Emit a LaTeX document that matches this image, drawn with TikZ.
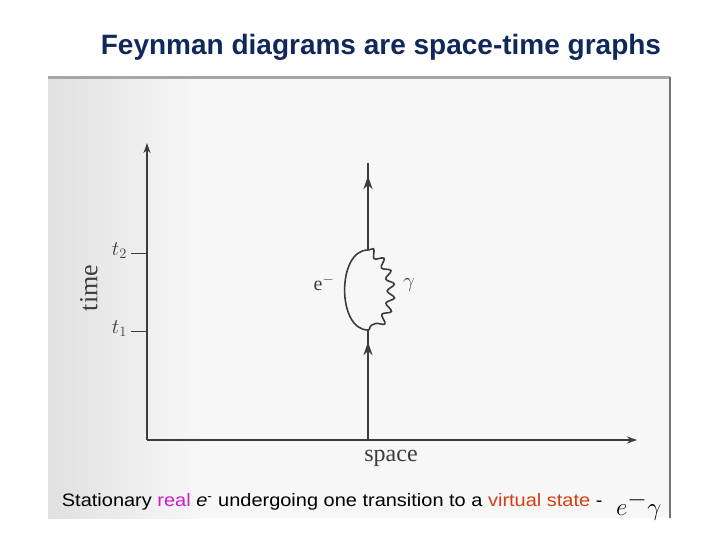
\documentclass[tikz,border=0pt]{standalone}
\usepackage{fontspec}
\setmainfont{Liberation Serif}
\setsansfont{Liberation Sans}
\usepackage{tikz}
\usetikzlibrary{arrows.meta, decorations.pathmorphing, decorations.markings}
\definecolor{titleblue}{RGB}{16,40,90}
\definecolor{scanink}{RGB}{60,60,60}
\definecolor{realpink}{RGB}{200,30,200}
\definecolor{virtred}{RGB}{215,60,20}
\tikzset{
  every label text/.style={
    text=scanink,
    inner sep=0pt
  },
  fermion/.style={
    draw=scanink,
    line width=2pt,
    postaction={decorate},
    decoration={markings, mark=at position #1 with {\arrow{Stealth[length=13pt, width=9pt, inset=4pt]}}}
  },
}
\tikzstyle{axis} = [draw=scanink, line width=1.4pt, -{Stealth[length=10pt, width=7pt, inset=3pt]}]
\tikzstyle{tick} = [draw=scanink, line width=1pt]
\tikzstyle{photon} = [draw=scanink, line width=1.6pt, decorate, decoration={snake, amplitude=3.8pt, segment length=13pt}]
\tikzstyle{loopline} = [draw=scanink, line width=1.6pt]

\begin{document}
\begin{tikzpicture}[x=1pt, y=-1pt]
        \useasboundingbox (0,0) rectangle (720,540);
        \fill[white] (0,0) rectangle (720,540);
        % scanned page
        \shade[left color=black!12, right color=black!3] (48,77) rectangle (200,518);
        \fill[black!3] (200,77) rectangle (670,518);
        \draw[black!35, line width=3pt] (48,78) -- (670,78);
        \draw[black!55, line width=1.5pt] (670,77) -- (670,518);

        % title
        \node [font=\sffamily\bfseries\fontsize{28}{32}\selectfont, text=titleblue] (title) at (381,47) {Feynman diagrams are space-time graphs};

        % axes
        \coordinate (origin) at (147,440);
        \coordinate (tend) at (147,143);
        \coordinate (send) at (637,440);
        \draw [axis] (origin) -- (tend);
        \draw [axis] (origin) -- (send);
        \coordinate (t2a) at (131,253);
        \coordinate (t2b) at (147,253);
        \coordinate (t1a) at (131,331);
        \coordinate (t1b) at (147,331);
        \draw [tick] (t2a) -- (t2b);
        \draw [tick] (t1a) -- (t1b);

        % axis labels
        \node [every label text, font=\fontsize{26}{30}\selectfont, rotate=90] (time) at (89,288) {time};
        \node [every label text, font=\fontsize{24}{28}\selectfont] (space) at (391,458) {space};
        \node [every label text, font=\fontsize{20}{22}\selectfont, anchor=east] (t2) at (127,251) {$t_2$};
        \node [every label text, font=\fontsize{20}{22}\selectfont, anchor=east] (t1) at (127,329) {$t_1$};

        % electron line and loop
        \coordinate (ebot) at (368,440);
        \coordinate (vlow) at (368,330);
        \coordinate (vhigh) at (368,250);
        \coordinate (etop) at (368,163);
        \draw [fermion=0.89] (ebot) -- (vlow);
        \draw [fermion=0.85] (vhigh) -- (etop);
        \draw [loopline] (vlow) to[bend left=90, looseness=1.0] (vhigh);
        \draw [photon] (vhigh) to[bend left=60] (vlow);
        \node [every label text, font=\fontsize{20}{22}\selectfont] (elabel) at (324,283) {e$^{-}$};
        \node [every label text, font=\fontsize{20}{22}\selectfont] (glabel) at (409,285) {$\gamma$};

        % caption
        \node [font=\sffamily\fontsize{18}{21}\selectfont, anchor=west, xscale=1.11] (caption) at (58,502) {Stationary \textcolor{realpink}{real} \textit{e}\textsuperscript{-} undergoing one transition to a \textcolor{virtred}{virtual state} -};
        \node [font=\fontsize{38}{42}\selectfont, anchor=west, inner sep=0pt] (egamma) at (616,506) {$e^{-}\gamma$};
\end{tikzpicture}
\end{document}
